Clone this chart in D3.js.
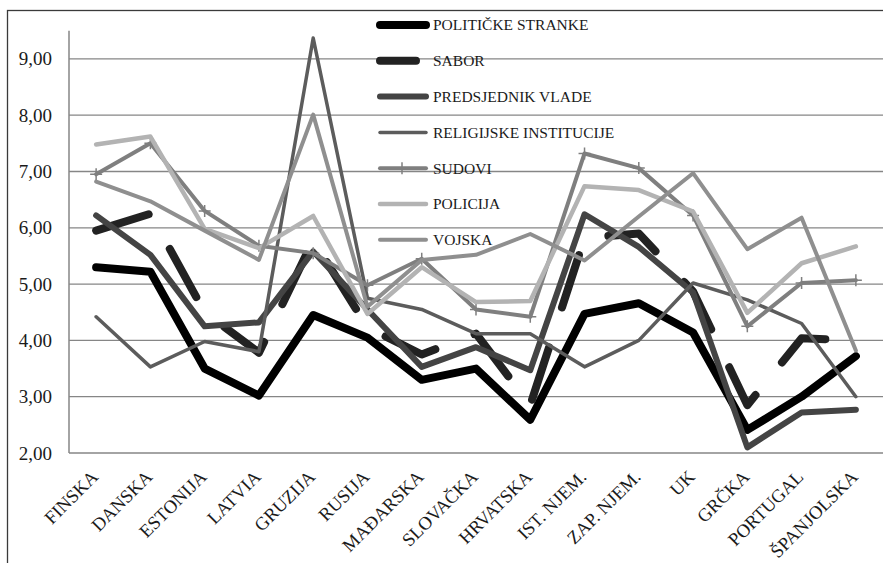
<!DOCTYPE html>
<html>
<head>
<meta charset="utf-8">
<script src="https://cdn.jsdelivr.net/npm/d3@7"></script>
<style>
  body { margin: 0; background: #fff; }
</style>
</head>
<body>
<div id="chart"></div>
<script>
// trust in institutions by country, 7 series

const countries = ["FINSKA", "DANSKA", "ESTONIJA", "LATVIA", "GRUZIJA", "RUSIJA", "MAĐARSKA",
    "SLOVAČKA", "HRVATSKA", "IST. NJEM.", "ZAP. NJEM.", "UK", "GRČKA", "PORTUGAL", "ŠPANJOLSKA"];

const seriesNames = ["POLITIČKE STRANKE", "SABOR", "PREDSJEDNIK VLADE", "RELIGIJSKE INSTITUCIJE",
    "SUDOVI", "POLICIJA", "VOJSKA"];

const politickeStranke = [5.30, 5.22, 3.50, 3.02, 4.45, 4.05, 3.30, 3.50, 2.59, 4.47, 4.66, 4.14, 2.41, 3.00, 3.72];
const sabor = [5.95, 6.25, 4.50, 3.78, 5.78, 4.23, 3.75, 4.12, 2.85, 5.82, 5.90, 4.87, 2.85, 4.04, 4.00];
const predsjednikVlade = [6.22, 5.52, 4.25, 4.32, 5.58, 4.55, 3.53, 3.88, 3.47, 6.24, 5.66, 4.85, 2.10, 2.72, 2.77];
const religijske = [4.42, 3.53, 3.98, 3.80, 9.37, 4.75, 4.55, 4.12, 4.12, 3.53, 4.00, 5.02, 4.72, 4.30, 3.00];
const sudovi = [6.95, 7.50, 6.30, 5.68, 5.55, 4.98, 5.45, 4.55, 4.42, 7.32, 7.06, 6.22, 4.25, 5.02, 5.07];
const policija = [7.48, 7.62, 5.98, 5.64, 6.21, 4.47, 5.30, 4.68, 4.70, 6.74, 6.67, 6.29, 4.49, 5.37, 5.67];
const vojska = [6.82, 6.47, 5.95, 5.43, 8.01, 4.60, 5.43, 5.52, 5.89, 5.42, 6.20, 6.97, 5.62, 6.18, 3.82];

const yTicks = [2, 3, 4, 5, 6, 7, 8, 9];

const values = [politickeStranke, sabor, predsjednikVlade, religijske, sudovi, policija, vojska];

// line styles, same order as seriesNames
const styles = [
    { color: "#000000", width: 8 },
    { color: "#222222", width: 8, dash: "55,42", legendDash: "36,60" },
    { color: "#444444", width: 6 },
    { color: "#5c5c5c", width: 3.5 },
    { color: "#7f7f7f", width: 4, marker: true },
    { color: "#b3b3b3", width: 4.5 },
    { color: "#8f8f8f", width: 4 }
];

const series = seriesNames.map((name, i) => ({ name: name, values: values[i], style: styles[i] }));

const FONT = "Liberation Serif, DejaVu Serif, serif";
const width = 883, height = 563;
const plotLeft = 69, plotRight = 883, plotBottom = 453;

const svg = d3.select("#chart").append("svg")
    .attr("width", width)
    .attr("height", height)
    .attr("font-family", FONT);

// outer frame
svg.append("rect")
    .attr("x", 7.5).attr("y", 10.5)
    .attr("width", 900).attr("height", 600)
    .attr("fill", "none")
    .attr("stroke", "#3a3a3a")
    .attr("stroke-width", 1.3);

const x = d3.scaleBand().domain(countries).range([plotLeft, plotRight]);
const y = d3.scaleLinear().domain([2, 9.5]).range([plotBottom, plotBottom - 7.5 * 56.3]);
const cx = c => x(c) + x.bandwidth() / 2;

const fmt = d3.formatLocale({ decimal: ",", thousands: ".", grouping: [3], currency: ["", ""] }).format(".2f");

// gridlines
svg.append("g")
    .selectAll("line")
    .data(yTicks)
    .join("line")
    .attr("x1", plotLeft).attr("x2", plotRight)
    .attr("y1", d => y(d)).attr("y2", d => y(d))
    .attr("stroke", "#868686")
    .attr("stroke-width", 1.3);

// y axis
const yAxis = svg.append("g")
    .attr("transform", `translate(${plotLeft},0)`)
    .call(d3.axisLeft(y).tickValues(yTicks).tickSize(0).tickPadding(17).tickFormat(fmt));
yAxis.attr("font-family", FONT);
yAxis.select(".domain").remove();
yAxis.selectAll("text")
    .attr("font-size", "19px")
    .attr("fill", "#1a1a1a");

svg.append("line")
    .attr("x1", plotLeft).attr("x2", plotLeft)
    .attr("y1", y(9.5)).attr("y2", y(2))
    .attr("stroke", "#868686")
    .attr("stroke-width", 1.5);

// rotated category labels
svg.append("g")
    .selectAll("text")
    .data(countries)
    .join("text")
    .attr("transform", d => `translate(${cx(d) + 3},${plotBottom + 25}) rotate(-45)`)
    .attr("text-anchor", "end")
    .attr("font-family", FONT)
    .attr("font-size", "18.5px")
    .attr("fill", "#1a1a1a")
    .text(d => d);

// series lines
const line = d3.line()
    .x((d, i) => cx(countries[i]))
    .y(d => y(d));

const lines = svg.append("g");
series.forEach(s => {
    lines.append("path")
        .datum(s.values)
        .attr("d", line)
        .attr("fill", "none")
        .attr("stroke", s.style.color)
        .attr("stroke-width", s.style.width)
        .attr("stroke-linejoin", "round")
        .attr("stroke-linecap", "round")
        .attr("stroke-dasharray", s.style.dash || null);

    if (s.style.marker) {
        lines.append("g")
            .selectAll("path")
            .data(s.values)
            .join("path")
            .attr("transform", (d, i) => `translate(${cx(countries[i])},${y(d)})`)
            .attr("d", "M-6,0H6M0,-6V6")
            .attr("stroke", s.style.color)
            .attr("stroke-width", 1.5);
    }
});

// legend
const legend = svg.append("g");
const item = legend.selectAll("g")
    .data(series)
    .join("g")
    .attr("transform", (d, i) => `translate(0,${25 + i * 35.8})`);

item.append("line")
    .attr("x1", 380).attr("x2", 426)
    .attr("stroke", d => d.style.color)
    .attr("stroke-width", d => d.style.width)
    .attr("stroke-linecap", "round")
    .attr("stroke-dasharray", d => d.style.legendDash || null);

item.filter(d => d.style.marker)
    .append("path")
    .attr("transform", "translate(402,0)")
    .attr("d", "M0,-6V6")
    .attr("stroke", d => d.style.color)
    .attr("stroke-width", 1.5);

item.append("text")
    .attr("x", 433)
    .attr("dy", "0.35em")
    .attr("font-family", FONT)
    .attr("font-size", "15.5px")
    .attr("fill", "#1a1a1a")
    .text(d => d.name);
</script>
</body>
</html>
